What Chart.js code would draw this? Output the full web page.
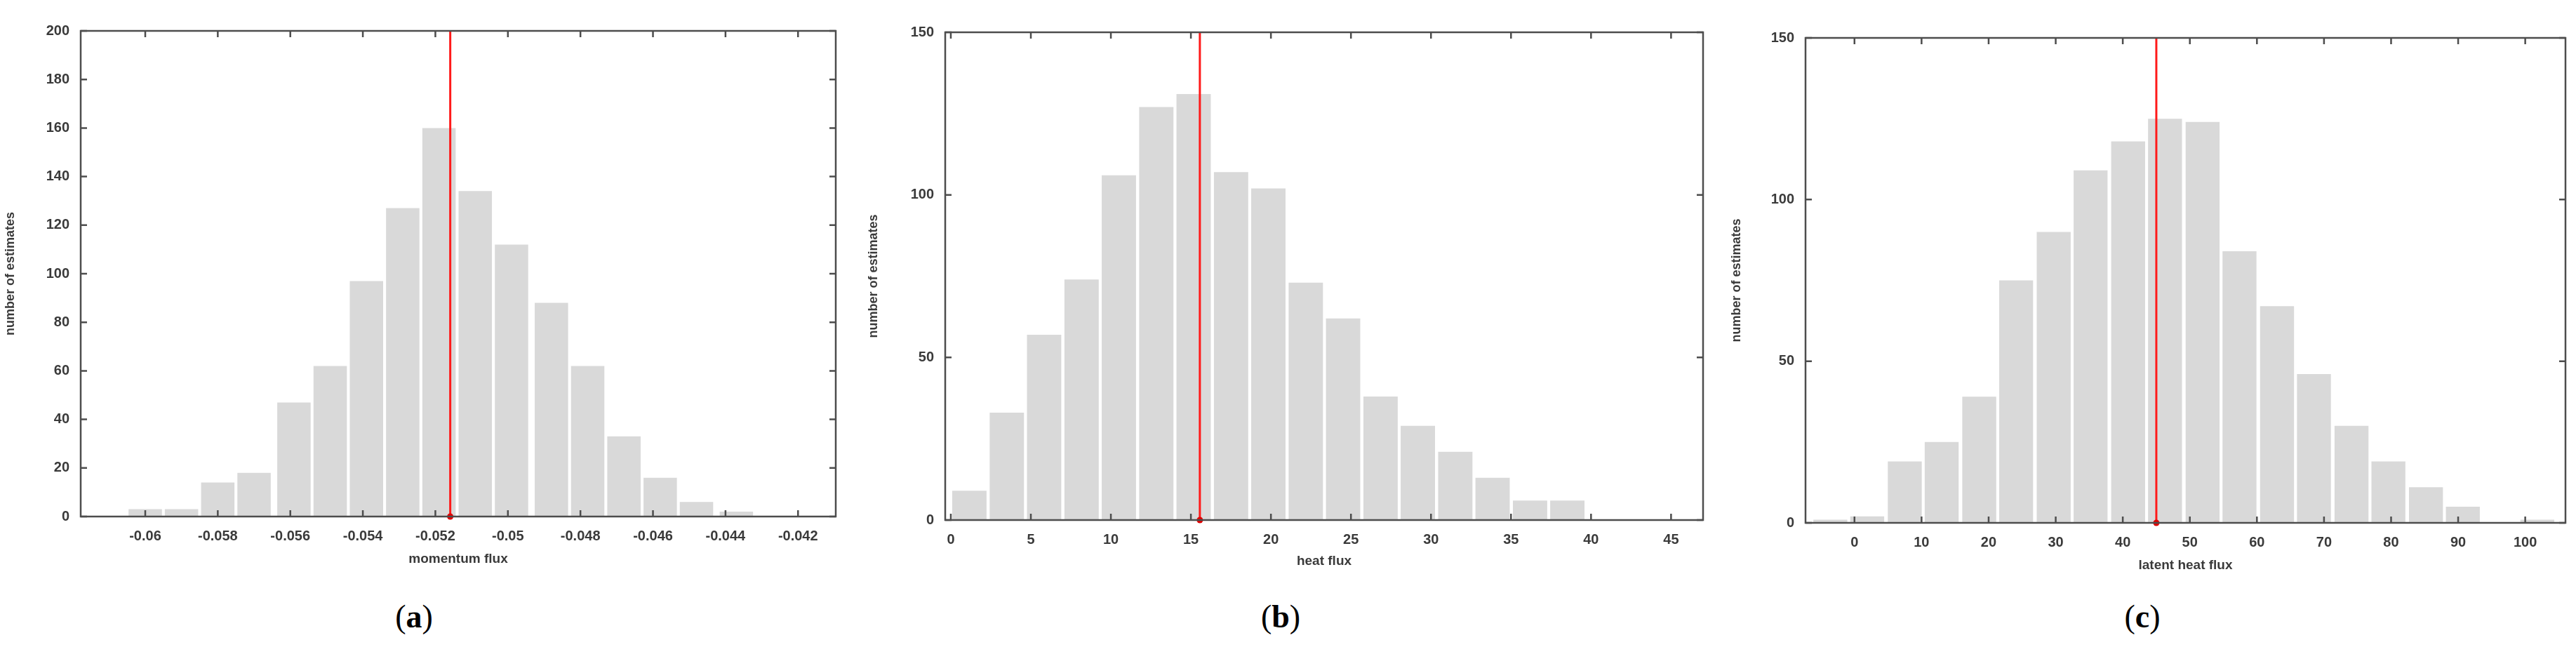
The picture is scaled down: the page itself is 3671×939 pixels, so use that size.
<!DOCTYPE html>
<html><head><meta charset="utf-8">
<script src="https://cdn.jsdelivr.net/npm/chart.js@4/dist/chart.umd.min.js"></script>
<style>
body{margin:0;background:#fff;width:3671px;height:939px;position:relative;overflow:hidden}
canvas{position:absolute}
.cap{position:absolute;font-family:"Liberation Serif",serif;font-size:46px;transform:translateX(-50%);top:852px}
.cap b{font-weight:bold}
</style></head><body>
<canvas id="ca" style="left:0;top:0" width="1220" height="830"></canvas>
<canvas id="cb" style="left:1230px;top:0" width="1220" height="830"></canvas>
<canvas id="cc" style="left:2460px;top:0" width="1211" height="830"></canvas>
<div class="cap" style="left:590px">(<b>a</b>)</div>
<div class="cap" style="left:1825px">(<b>b</b>)</div>
<div class="cap" style="left:3053px">(<b>c</b>)</div>
<script>
// Panel (a) momentum flux
const binsA = [-0.0600,-0.0590,-0.0580,-0.0570,-0.0559,-0.0549,-0.0539,-0.0529,-0.0519,-0.0509,-0.0499,-0.0488,-0.0478,-0.0468,-0.0458,-0.0448,-0.0437];
const countsA = [3,3,14,18,47,62,97,127,160,134,112,88,62,33,16,6,2];
const xTicksA = [-0.06,-0.058,-0.056,-0.054,-0.052,-0.05,-0.048,-0.046,-0.044,-0.042];
const xLabelsA = ["-0.06","-0.058","-0.056","-0.054","-0.052","-0.05","-0.048","-0.046","-0.044","-0.042"];
const yTicksA = [0,20,40,60,80,100,120,140,160,180,200];
const markA = -0.05159;
// Panel (b) heat flux
const binsB = [1.16,3.50,5.83,8.17,10.50,12.84,15.17,17.51,19.84,22.18,24.51,26.85,29.18,31.52,33.85,36.19,38.52];
const countsB = [9,33,57,74,106,127,131,107,102,73,62,38,29,21,13,6,6];
const xTicksB = [0,5,10,15,20,25,30,35,40,45];
const xLabelsB = ["0","5","10","15","20","25","30","35","40","45"];
const yTicksB = [0,50,100,150];
const markB = 15.56;
// Panel (c) latent heat flux
const binsC = [-3.6,1.9,7.5,13.0,18.6,24.1,29.7,35.2,40.8,46.3,51.9,57.4,63.0,68.5,74.1,79.6,85.2,90.7,96.3,101.8];
const countsC = [1,2,19,25,39,75,90,109,118,125,124,84,67,46,30,19,11,5,0,1];
const xTicksC = [0,10,20,30,40,50,60,70,80,90,100];
const xLabelsC = ["0","10","20","30","40","50","60","70","80","90","100"];
const yTicksC = [0,50,100,150];
const markC = 45.0;

const FONT = '"Liberation Sans", Arial, sans-serif';
const frame = {
  id:'frame',
  afterDatasetsDraw(ch, args, o){
    const c=ch.ctx, a=ch.chartArea, xs=ch.scales.x, ys=ch.scales.y;
    c.save();
    const mx=xs.getPixelForValue(o.mark);
    c.strokeStyle='#ff1a1a'; c.lineWidth=3;
    c.beginPath(); c.moveTo(mx,a.top); c.lineTo(mx,a.bottom); c.stroke();
    c.fillStyle='#e00000'; c.beginPath(); c.arc(mx,a.bottom,4.5,0,Math.PI*2); c.fill();
    c.strokeStyle='#4d4d4d'; c.lineWidth=2.5;
    c.strokeRect(a.left,a.top,a.right-a.left,a.bottom-a.top);
    c.beginPath();
    o.xt.forEach(v=>{const p=xs.getPixelForValue(v); c.moveTo(p,a.bottom); c.lineTo(p,a.bottom-9); c.moveTo(p,a.top); c.lineTo(p,a.top+9);});
    o.yt.forEach(v=>{const p=ys.getPixelForValue(v); c.moveTo(a.left,p); c.lineTo(a.left+9,p); c.moveTo(a.right,p); c.lineTo(a.right-9,p);});
    c.stroke();
    c.restore();
  }
};
function make(id, bins, counts, xmin, xmax, xt, xl, ymax, yt, mark, title, yw, xh, pad){
  new Chart(document.getElementById(id),{
    type:'bar',
    data:{datasets:[{data:bins.map((b,i)=>({x:b,y:counts[i]})),backgroundColor:'#d9d9d9',borderWidth:0,barPercentage:1,categoryPercentage:0.92}]},
    options:{
      responsive:false,animation:false,
      layout:{padding:pad},
      plugins:{legend:{display:false},tooltip:{enabled:false},frame:{mark:mark,xt:xt,yt:yt}},
      scales:{
        x:{type:'linear',min:xmin,max:xmax,offset:false,
           afterBuildTicks:s=>{s.ticks=xt.map(v=>({value:v}));},
           afterFit:s=>{s.height=xh;},
           grid:{display:false},border:{display:false},
           ticks:{autoSkip:false,maxRotation:0,padding:8,color:'#3a3a3a',font:{family:FONT,size:20,weight:'bold'},callback:(v,i)=>xl[i]},
           title:{display:true,text:title,color:'#3a3a3a',font:{family:FONT,size:19,weight:'bold'},padding:{top:0,bottom:0}}},
        y:{min:0,max:ymax,
           afterBuildTicks:s=>{s.ticks=yt.map(v=>({value:v}));},
           afterFit:s=>{s.width=yw;},
           grid:{display:false},border:{display:false},
           ticks:{padding:8,color:'#3a3a3a',font:{family:FONT,size:20,weight:'bold'}},
           title:{display:true,text:'number of estimates',color:'#3a3a3a',font:{family:FONT,size:18,weight:'bold'},padding:{bottom:2}}}
      }
    },
    plugins:[frame]
  });
}
make('ca',binsA,countsA,-0.06178,-0.04096,xTicksA,xLabelsA,200,yTicksA,markA,'momentum flux',115,72,{top:44,right:29,left:0,bottom:22});
make('cb',binsB,countsB,-0.35,47.0,xTicksB,xLabelsB,150,yTicksB,markB,'heat flux',117,70,{top:46,right:23,left:0,bottom:19});
make('cc',binsC,countsC,-7.3,106,xTicksC,xLabelsC,150,yTicksC,markC,'latent heat flux',113,72,{top:54,right:15,left:0,bottom:13});
</script>
</body></html>
